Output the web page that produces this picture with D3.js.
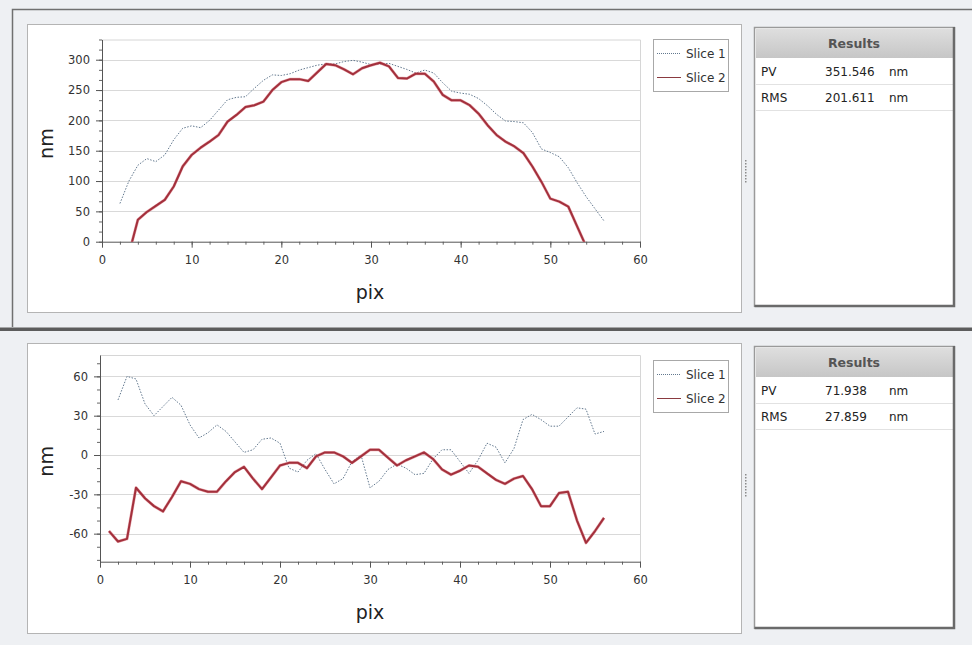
<!DOCTYPE html>
<html><head><meta charset="utf-8">
<script src="https://cdn.jsdelivr.net/npm/d3@7"></script>
<style>body{margin:0;background:#eef0f3;}svg{display:block;}</style>
</head><body>
<svg id="c" width="972" height="645"></svg>
<script>
// ---------- data ----------
const xTicks = [0, 10, 20, 30, 40, 50, 60];
const topYTicks = [0, 50, 100, 150, 200, 250, 300];
const botYTicks = [-60, -30, 0, 30, 60];
const seriesNames = ["Slice 1", "Slice 2"];

const topSlice1Pix = [2,3,4,5,6,7,8,9,10,11,12,13,14,15,16,17,18,19,20,21,22,23,24,25,26,27,28,29,30,31,32,33,34,35,36,37,38,39,40,41,42,43,44,45,46,47,48,49,50,51,52,53,54,55,56];
const topSlice1 = [63,100,126,137,132,143,168,187,191,188,200,217,234,238,239,253,266,275,274,277,283,287,291,293,293,297,299,296,292,293,294,289,284,278,283,278,262,248,245,243,236,224,210,199,198,196,180,153,147,140,122,97,74,54,34];
const topSlice2Pix = [3,4,5,6,7,8,9,10,11,12,13,14,15,16,17,18,19,20,21,22,23,24,25,26,27,28,29,30,31,32,33,34,35,36,37,38,39,40,41,42,43,44,45,46,47,48,49,50,51,52,53,54];
const topSlice2 = [-20,36,49,59,69,91,124,143,155,165,176,198,209,222,225,231,250,263,268,268,265,279,293,291,284,276,286,291,295,289,270,269,277,277,264,242,233,233,225,211,192,176,165,157,146,124,99,71,66,58,25,-8];

const botSlice1Pix = [2,3,4,5,6,7,8,9,10,11,12,13,14,15,16,17,18,19,20,21,22,23,24,25,26,27,28,29,30,31,32,33,34,35,36,37,38,39,40,41,42,43,44,45,46,47,48,49,50,51,52,53,54,55,56];
const botSlice1 = [42,60,58,39,30,37,44,38,23,13,17,23,18,10,2,4,12,13,9,-10,-13,-4,1,-11,-22,-18,-5,0,-25,-20,-11,-7,-10,-15,-14,-3,4,4,-5,-14,-4,9,6,-6,5,27,31,27,22,22,29,36,35,16,18];
const botSlice2Pix = [1,2,3,4,5,6,7,8,9,10,11,12,13,14,15,16,17,18,19,20,21,22,23,24,25,26,27,28,29,30,31,32,33,34,35,36,37,38,39,40,41,42,43,44,45,46,47,48,49,50,51,52,53,54,55,56];
const botSlice2 = [-58,-66,-64,-25,-33,-39,-43,-32,-20,-22,-26,-28,-28,-20,-13,-9,-18,-26,-17,-8,-6,-6,-10,-1,2,2,-1,-6,-1,4,4,-2,-8,-4,-1,2,-3,-11,-15,-12,-8,-9,-14,-19,-22,-18,-16,-26,-39,-39,-29,-28,-50,-67,-58,-48];

const resultLabels = ["PV", "RMS"];
const topResults = ["351.546", "201.611"];
const botResults = ["71.938", "27.859"];
const unit = "nm";

// ---------- drawing ----------
const svg = d3.select("#c");
const FONT = "DejaVu Sans, Verdana, sans-serif";

svg.append("rect").attr("width", 972).attr("height", 645).attr("fill", "#eef0f3");
// top frame
svg.append("path").attr("d", "M12.5,327 L12.5,9.5 L972,9.5").attr("fill", "none").attr("stroke", "#707070").attr("stroke-width", 1.5);
svg.append("rect").attr("x", 0).attr("y", 327.5).attr("width", 972).attr("height", 3.5).attr("fill", "#5c5c5c");

const S1_COLOR = "#62788e", S2_COLOR = "#a3303c";

function drawPanel(cfg) {
  const g = svg.append("g");
  g.append("rect").attr("x", 27.5).attr("y", cfg.panelY + 0.5).attr("width", 714).attr("height", cfg.panelH)
    .attr("fill", "#fff").attr("stroke", "#b4b4b4");

  const x = d3.scaleLinear().domain([0, 60]).range([cfg.x0, 640]);
  const y = d3.scaleLinear().domain(cfg.yDomain).range([cfg.yBottom, cfg.yTop]);

  g.append("path").attr("d", `M${cfg.x0},${cfg.yTop + 0.5} H640.5 V${cfg.yBottom}`)
    .attr("fill", "none").attr("stroke", "#d6d6d6");
  g.selectAll(".grid").data(cfg.yTicks.filter(t => t !== cfg.yDomain[0])).join("line")
    .attr("x1", cfg.x0).attr("x2", 640).attr("y1", d => Math.round(y(d)) + 0.5).attr("y2", d => Math.round(y(d)) + 0.5)
    .attr("stroke", "#d9d9d9").attr("stroke-width", 1.2);

  const yMinor = d3.axisLeft(y).tickValues(cfg.yMinor).tickSize(3).tickFormat("");
  const xMinor = d3.axisBottom(x).tickValues(d3.range(0, 61, 2)).tickSize(3).tickFormat("");
  g.append("g").attr("transform", `translate(${cfg.x0},0)`).call(yMinor).call(s => s.select(".domain").remove())
    .selectAll("line").attr("stroke", "#666");
  g.append("g").attr("transform", `translate(0,${cfg.yBottom})`).call(xMinor).call(s => s.select(".domain").remove())
    .selectAll("line").attr("stroke", "#666");

  const fmt = d => String(d);
  const yAxis = d3.axisLeft(y).tickValues(cfg.yTicks).tickSize(6).tickSizeOuter(0).tickPadding(6).tickFormat(fmt);
  const xAxis = d3.axisBottom(x).tickValues(xTicks).tickSize(6).tickSizeOuter(0).tickPadding(8).tickFormat(fmt);
  const ya = g.append("g").attr("transform", `translate(${cfg.x0},0)`).call(yAxis);
  const xa = g.append("g").attr("transform", `translate(0,${cfg.yBottom})`).call(xAxis);
  [ya, xa].forEach(a => {
    a.select(".domain").attr("stroke", "#555");
    a.selectAll(".tick line").attr("stroke", "#555");
    a.selectAll("text").attr("fill", "#333").style("font-family", FONT).style("font-size", "11.5px");
  });

  g.append("text").attr("x", 370).attr("y", cfg.yBottom + 57).attr("text-anchor", "middle")
    .style("font-family", FONT).style("font-size", "19px").attr("fill", "#222").text("pix");
  g.append("text").attr("transform", `translate(53,${(cfg.yTop + cfg.yBottom) / 2 + 3}) rotate(-90)`)
    .attr("text-anchor", "middle").style("font-family", FONT).style("font-size", "19px").attr("fill", "#222").text("nm");

  const cid = "clip" + cfg.id;
  svg.append("clipPath").attr("id", cid).append("rect")
    .attr("x", cfg.x0).attr("y", cfg.yTop).attr("width", 640 - cfg.x0).attr("height", cfg.yBottom - cfg.yTop);

  const line = d3.line().x(d => x(d[0])).y(d => y(d[1]));
  const s1 = d3.zip(cfg.s1x, cfg.s1);
  const s2 = d3.zip(cfg.s2x, cfg.s2);
  const lg = g.append("g").attr("clip-path", `url(#${cid})`);
  lg.append("path").datum(s1).attr("d", line).attr("fill", "none").attr("stroke", S1_COLOR)
    .attr("stroke-width", 1).attr("stroke-dasharray", "1.5,1.5");
  lg.append("path").datum(s2).attr("d", line).attr("fill", "none").attr("stroke", "#d8707a")
    .attr("stroke-width", 3).attr("stroke-linejoin", "round").attr("opacity", 0.6);
  lg.append("path").datum(s2).attr("d", line).attr("fill", "none").attr("stroke", S2_COLOR)
    .attr("stroke-width", 2).attr("stroke-linejoin", "round");

  const ly = cfg.legendY;
  g.append("rect").attr("x", 653.5).attr("y", ly + 0.5).attr("width", 75).attr("height", 52)
    .attr("fill", "#fff").attr("stroke", "#a8a8a8");
  seriesNames.forEach((n, i) => {
    const yy = ly + 14 + i * 24;
    g.append("line").attr("x1", 657).attr("x2", 681).attr("y1", yy + 0.5).attr("y2", yy + 0.5)
      .attr("stroke", i === 0 ? S1_COLOR : "#8a3a40").attr("stroke-width", 1)
      .attr("stroke-dasharray", i === 0 ? "1,1" : null);
    g.append("text").attr("x", 686).attr("y", yy + 4.5).style("font-family", FONT).style("font-size", "12px")
      .attr("fill", "#333").text(n);
  });

  for (let k = 0; k < 8; k++) {
    g.append("rect").attr("x", 745).attr("y", cfg.gripY + k * 3).attr("width", 1.5).attr("height", 1.5).attr("fill", "#8a8a8a");
  }

  const rb = cfg.resY, rh = cfg.resH;
  g.append("rect").attr("x", 754).attr("y", rb).attr("width", 201).attr("height", rh).attr("fill", "#fff");
  const gradId = "grad" + cfg.id;
  const grad = svg.append("defs").append("linearGradient").attr("id", gradId).attr("x1", 0).attr("y1", 0).attr("x2", 0).attr("y2", 1);
  grad.append("stop").attr("offset", "0%").attr("stop-color", "#dedede");
  grad.append("stop").attr("offset", "100%").attr("stop-color", "#c6c6c6");
  g.append("rect").attr("x", 756).attr("y", rb + 2).attr("width", 197).attr("height", 29).attr("fill", `url(#${gradId})`);
  g.append("text").attr("x", 854).attr("y", rb + 21).attr("text-anchor", "middle").style("font-family", FONT)
    .style("font-size", "12.5px").style("font-weight", "bold").attr("fill", "#555").text("Results");
  cfg.results.forEach((v, i) => {
    const top = rb + 31 + i * 26;
    g.append("line").attr("x1", 756).attr("x2", 953).attr("y1", top + 26.5).attr("y2", top + 26.5).attr("stroke", "#e2e2e2");
    g.append("text").attr("x", 761).attr("y", top + 18).style("font-family", FONT).style("font-size", "12px").attr("fill", "#222").text(resultLabels[i]);
    g.append("text").attr("x", 825).attr("y", top + 18).style("font-family", FONT).style("font-size", "12px").attr("fill", "#222").text(v);
    g.append("text").attr("x", 889).attr("y", top + 18).style("font-family", FONT).style("font-size", "12px").attr("fill", "#222").text(unit);
  });
  g.append("path").attr("d", `M754.5,${rb + rh} V${rb + 0.5} H955`).attr("fill", "none").attr("stroke", "#9a9a9a").attr("stroke-width", 1.5);
  g.append("path").attr("d", `M754.5,${rb + rh - 1} H954 V${rb}`).attr("fill", "none").attr("stroke", "#6a6a6a").attr("stroke-width", 2.5);
}

drawPanel({
  id: "t", panelY: 24, panelH: 288, x0: 102, yTop: 39.5, yBottom: 241.7,
  yDomain: [0, 333.33], yTicks: topYTicks,
  yMinor: d3.range(0, 334, 50 / 3),
  s1x: topSlice1Pix, s1: topSlice1, s2x: topSlice2Pix, s2: topSlice2,
  legendY: 39, gripY: 160, resY: 27, resH: 280, results: topResults
});
drawPanel({
  id: "b", panelY: 343, panelH: 290, x0: 100, yTop: 355, yBottom: 561.7,
  yDomain: [-81.4, 76.3], yTicks: botYTicks,
  yMinor: d3.range(-80, 76, 10),
  s1x: botSlice1Pix, s1: botSlice1, s2x: botSlice2Pix, s2: botSlice2,
  legendY: 360, gripY: 474, resY: 346, resH: 283, results: botResults
});
</script>
</body></html>
